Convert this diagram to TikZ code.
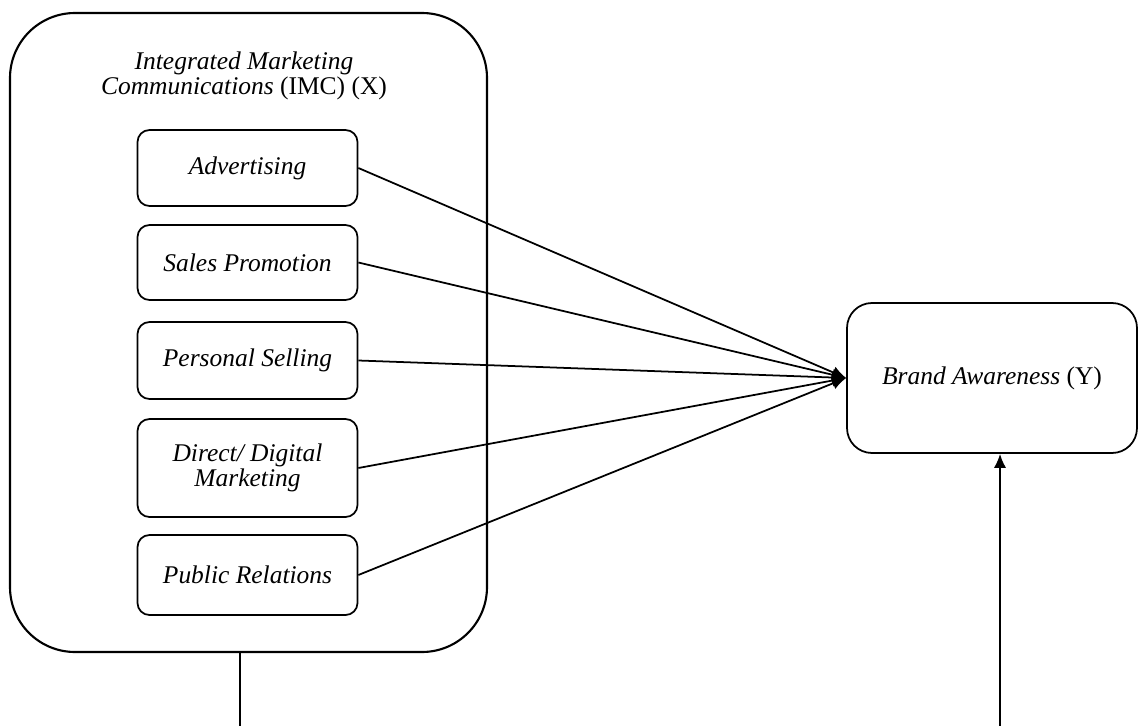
\documentclass[tikz,border=0pt]{standalone}
\usepackage{fontspec}
\setmainfont{Liberation Serif}
\usetikzlibrary{arrows.meta}

\tikzset{
    dim/.style={draw, rounded corners=0.24cm, line width=1pt, minimum width=4.4cm, align=center},
    link/.style={line width=1pt, -{Latex[length=8pt,width=7pt]}}
}

\begin{document}
\begin{tikzpicture}
    \fontsize{14.5}{14.2}\selectfont
    \useasboundingbox (0,0) rectangle (22.8,-14.52);

    % outer IMC box with its title
    \node[draw, line width=1.2pt, rounded corners=1.3cm, minimum width=9.54cm, minimum height=12.78cm] (imc) at (4.97,-6.65) {};
    \node[align=center] (title) at (4.88,-1.51) {\itshape Integrated Marketing\\ \itshape Communications \upshape(IMC) (X)};

    % dimensions of IMC
    \node[dim, minimum height=1.52cm] (adv) at (4.95,-3.36) {\itshape Advertising};
    \node[dim, minimum height=1.50cm] (sales) at (4.95,-5.25) {\itshape Sales Promotion};
    \node[dim, minimum height=1.54cm] (pers) at (4.95,-7.21) {\itshape Personal Selling};
    \node[dim, minimum height=1.96cm] (direct) at (4.95,-9.36) {\itshape Direct/ Digital\\ \itshape Marketing};
    \node[dim, minimum height=1.60cm] (pr) at (4.95,-11.50) {\itshape Public Relations};

    % dependent variable
    \node[draw, rounded corners=0.5cm, line width=1pt, minimum width=5.8cm, minimum height=3.0cm] (brand) at (19.84,-7.56) {\itshape Brand Awareness \upshape(Y)};

    \foreach \d in {adv, sales, pers, direct, pr}
        \draw[link] (\d.east) -- (brand.west);

    % lines running off the bottom
    \coordinate (bl) at (4.8,-14.52);
    \coordinate (br) at (20.0,-14.52);
    \draw[line width=1pt] (imc.south -| bl) -- (bl);
    \draw[link] (br) -- (br |- brand.south);
\end{tikzpicture}
\end{document}
